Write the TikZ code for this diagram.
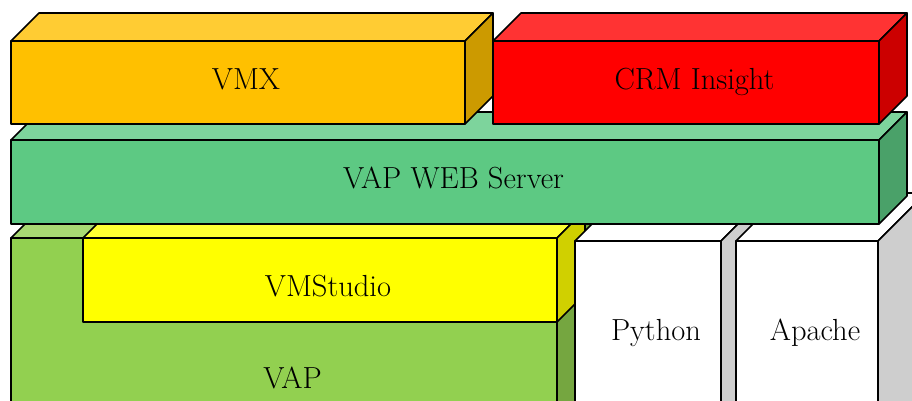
\documentclass[tikz,border=0pt]{standalone}
\definecolor{vmxF}{RGB}{255,192,0}
\definecolor{vmxT}{RGB}{255,204,51}
\definecolor{vmxS}{RGB}{204,154,0}
\definecolor{crmF}{RGB}{255,0,0}
\definecolor{crmT}{RGB}{255,51,51}
\definecolor{crmS}{RGB}{204,0,0}
\definecolor{webF}{RGB}{93,201,131}
\definecolor{webT}{RGB}{125,212,156}
\definecolor{webS}{RGB}{74,161,105}
\definecolor{vapF}{RGB}{146,208,80}
\definecolor{vapT}{RGB}{168,217,115}
\definecolor{vapS}{RGB}{117,166,64}
\definecolor{vmsF}{RGB}{255,255,0}
\definecolor{vmsT}{RGB}{255,255,51}
\definecolor{vmsS}{RGB}{208,208,0}
\definecolor{whtS}{RGB}{206,206,206}
\tikzset{
  face/.style={draw=black, line width=1.6pt, line join=round, inner sep=0pt, outer sep=0pt},
  lbl/.style={anchor=base, inner sep=0pt, font=\fontsize{30.5}{36}\selectfont}
}
\newcommand{\cuboid}[9]{%
  \node[face, fill=#7, anchor=north west, minimum width={(#4-#2)*1pt}, minimum height={(#5-#3)*1pt}] (#1) at (#2,#3) {};
  \draw[face, fill=#8] (#1.north west) -- ++(#6,-#6) -- ([shift={(#6,-#6)}]#1.north east) -- (#1.north east) -- cycle;
  \draw[face, fill=#9] (#1.north east) -- ++(#6,-#6) -- ([shift={(#6,-#6)}]#1.south east) -- (#1.south east) -- cycle;
}
\begin{document}
\begin{tikzpicture}[x=1pt, y=-1pt]
\useasboundingbox (0,0) rectangle (912,400);
\clip (0,0) rectangle (912,400);
\fill[white] (0,0) rectangle (912,400);
% bottom row
\cuboid{vap}{11}{238}{557}{440}{48}{vapF}{vapT}{vapS}
\cuboid{vms}{83}{238}{557}{322}{28}{vmsF}{vmsT}{vmsS}
\cuboid{py}{575}{241}{721}{440}{48}{white}{white}{whtS}
\cuboid{ap}{736}{241}{878}{440}{48}{white}{white}{whtS}
% middle
\cuboid{web}{11}{140}{879}{224}{28}{webF}{webT}{webS}
% top row
\cuboid{vmx}{11}{41}{465}{124}{28}{vmxF}{vmxT}{vmxS}
\cuboid{crm}{493}{41}{879}{124}{28}{crmF}{crmT}{crmS}
% labels
\node[lbl] (vmx-t) at (246,89) {VMX};
\node[lbl] (crm-t) at (694.5,89) {CRM Insight};
\node[lbl] (web-t) at (453.5,188) {VAP WEB Server};
\node[lbl] (vms-t) at (328,296) {VMStudio};
\node[lbl] (vap-t) at (292.5,388) {VAP};
\node[lbl] (py-t) at (656,340) {Python};
\node[lbl] (ap-t) at (815,340) {Apache};
\end{tikzpicture}
\end{document}
